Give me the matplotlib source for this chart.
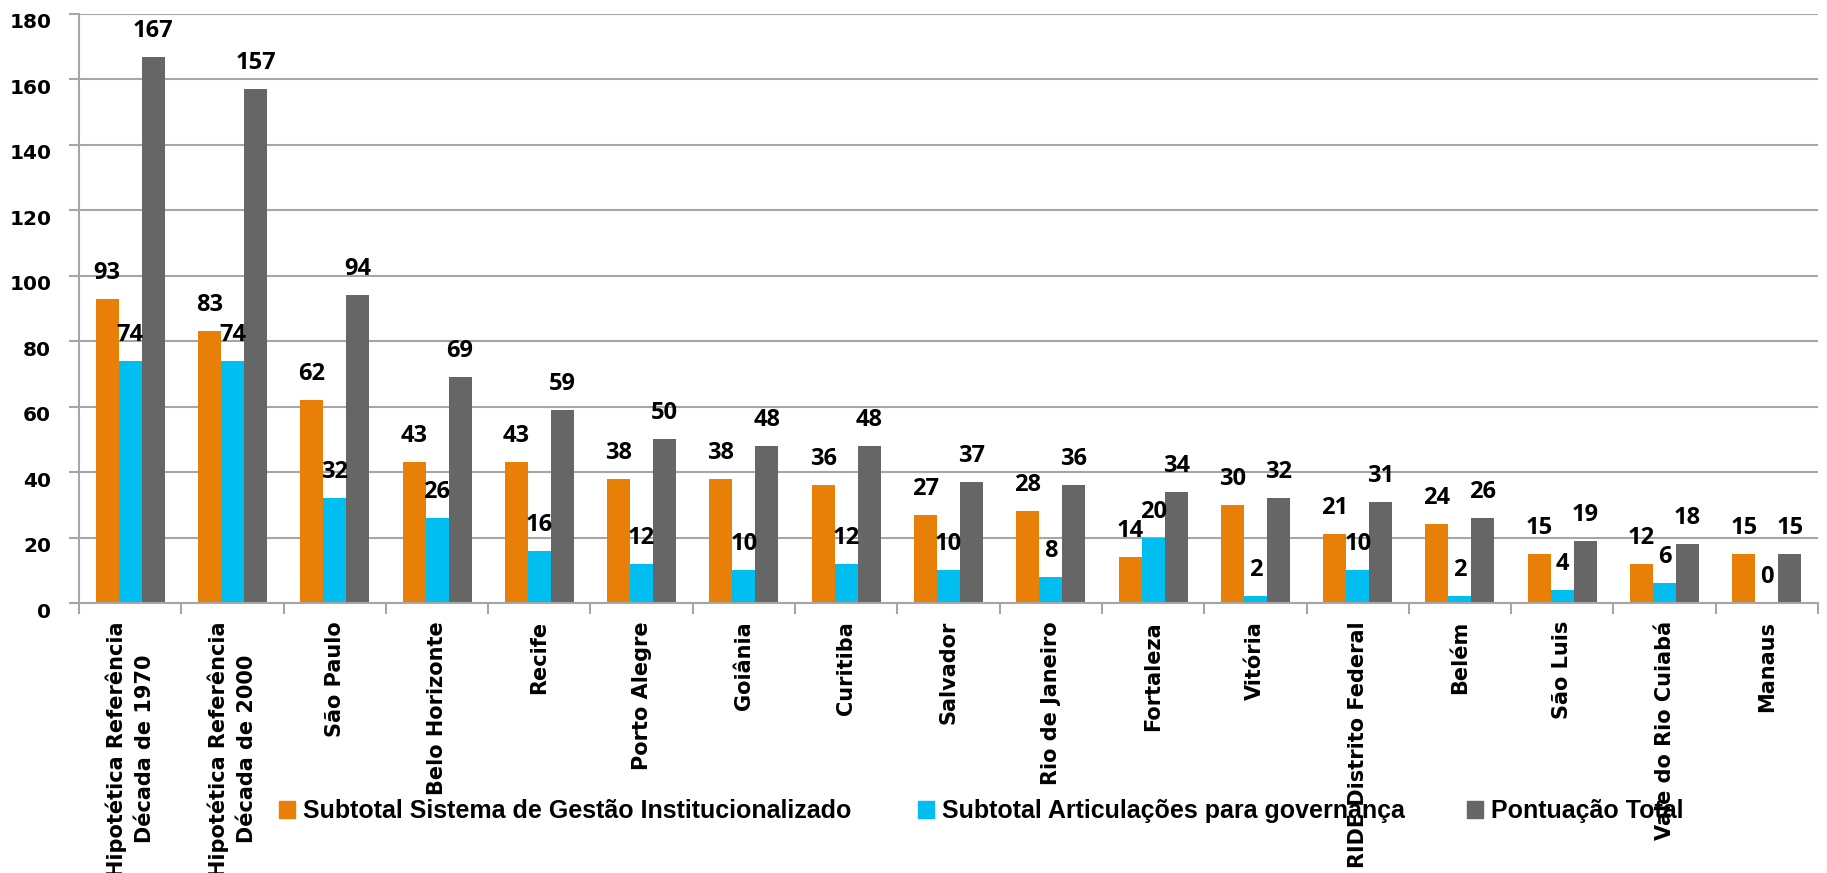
import numpy as np
import matplotlib
matplotlib.use('Agg')
import matplotlib.pyplot as plt
from matplotlib.patches import Patch
from matplotlib.transforms import ScaledTranslation

categorias = ['Hipotética Referência\nDécada de 1970', 'Hipotética Referência\nDécada de 2000',
              'São Paulo', 'Belo Horizonte', 'Recife', 'Porto Alegre', 'Goiânia', 'Curitiba',
              'Salvador', 'Rio de Janeiro', 'Fortaleza', 'Vitória', 'RIDE Distrito Federal',
              'Belém', 'São Luis', 'Vale do Rio Cuiabá', 'Manaus']
gestao = [93, 83, 62, 43, 43, 38, 38, 36, 27, 28, 14, 30, 21, 24, 15, 12, 15]
articulacoes = [74, 74, 32, 26, 16, 12, 10, 12, 10, 8, 20, 2, 10, 2, 4, 6, 0]
total = [167, 157, 94, 69, 59, 50, 48, 48, 37, 36, 34, 32, 31, 26, 19, 18, 15]
series_nomes = ['Subtotal Sistema de Gestão Institucionalizado',
                'Subtotal Articulações para governança',
                'Pontuação Total']
yticks = list(range(0, 181, 20))

cores = ['#E87F07', '#00BEF0', '#666666']
cinza = '#A6A6A6'

fig = plt.figure(figsize=(18.27, 8.73), dpi=100)
ax = fig.add_axes([79/1827, 1-603/873, (1818-79)/1827, (603-14)/873])

x = np.arange(len(categorias))
w = 0.225
for i, (vals, cor) in enumerate(zip([gestao, articulacoes, total], cores)):
    pos = x + (i-1)*w
    ax.bar(pos, vals, w, color=cor, zorder=2)
    for p, v in zip(pos, vals):
        ax.annotate(str(v), (p, v), xytext=(0, 14.4), textcoords='offset points',
                    ha='center', va='baseline', fontsize=17, fontweight='bold',
                    family=['Open Sans', 'DejaVu Sans'])

ax.set_xlim(-0.5, len(categorias)-0.5)
ax.set_ylim(0, 180)
ax.set_yticks(yticks)
ax.yaxis.grid(True, color=cinza, lw=1.5)
ax.set_axisbelow(True)
for s in ['top', 'right']:
    ax.spines[s].set_visible(False)
for s in ['left', 'bottom']:
    ax.spines[s].set_color(cinza)
    ax.spines[s].set_linewidth(1.5)

ax.set_xticks(np.arange(-0.5, len(categorias), 1))
ax.set_xticklabels([])
ax.tick_params(axis='x', which='major', length=8, width=1.5, color=cinza)
ax.set_xticks(x, minor=True)
ax.set_xticklabels(categorias, minor=True, rotation=90, fontsize=15, fontweight='bold',
                   ha='center', va='top', multialignment='center', linespacing=1.5)
ax.tick_params(axis='x', which='minor', length=0, pad=13)
ax.tick_params(axis='y', length=7, width=1.5, color=cinza, pad=13)
off = ScaledTranslation(0, -7/100, fig.dpi_scale_trans)
for lab in ax.get_yticklabels():
    lab.set_fontsize(14.5)
    lab.set_fontweight('bold')
    lab.set_transform(lab.get_transform() + off)

# legenda: tres entradas posicionadas
leg_x = [279, 918, 1467]
fs = 18
for nome, cor, lx in zip(series_nomes, cores, leg_x):
    leg = fig.legend(handles=[Patch(color=cor)], labels=[nome], loc='center left',
                     bbox_to_anchor=(lx/1827, 1-811/873), frameon=False,
                     borderpad=0, borderaxespad=0, handlelength=0.65, handleheight=0.65,
                     handletextpad=0.32,
                     prop={'family': ['Liberation Sans', 'DejaVu Sans'],
                           'weight': 'bold', 'size': fs})

fig.savefig('out.png', dpi=100)
